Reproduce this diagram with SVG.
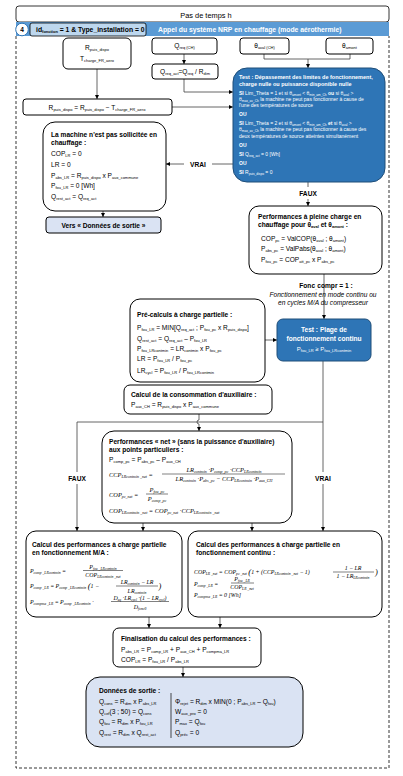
<svg xmlns="http://www.w3.org/2000/svg" width="403" height="776" viewBox="0 0 403 776">
<style>
text{font-family:"Liberation Sans",Arial,sans-serif;font-size:6.6px;fill:#000}
.b{font-weight:bold}
.sm{font-size:5px}
.w{fill:#fff}
.s{font-size:4px;baseline-shift:-1.3px}
.ss{font-size:3.2px;baseline-shift:-1px}
.m{font-family:"Liberation Serif",serif;font-style:italic;font-size:6.4px}
.m5{font-family:"Liberation Serif",serif;font-style:italic;font-size:5.9px}
.m5 .ss{font-size:3.7px;baseline-shift:-1.1px}
.it{font-style:italic}
.box{fill:#fff;stroke:#000;stroke-width:1}
.dk{fill:#2e75b6;stroke:#1f4e79;stroke-width:1}
.lt{fill:#dae3f3;stroke:#000;stroke-width:1}
.c{fill:none;stroke:#404040;stroke-width:0.8}
.fr{stroke:#000;stroke-width:0.5}
</style>
<defs>
<marker id="a" viewBox="0 0 6 6" refX="6" refY="3" markerUnits="userSpaceOnUse" markerWidth="4" markerHeight="4" orient="auto"><path d="M0,0L6,3L0,6z" fill="#000"/></marker>
</defs>

<g id="frame">
<rect x="16" y="6" width="373" height="16" rx="3" fill="#fff" stroke="#000" stroke-width="0.8"/>
<text x="206" y="17.5" text-anchor="middle" style="font-size:7.4px">Pas de temps h</text>
<rect x="16" y="22" width="373" height="14" fill="#5b9bd5"/>
<path d="M16,36V768H389V36" fill="none" stroke="#000" stroke-width="0.8" stroke-dasharray="3,2"/>
<circle cx="22" cy="29.5" r="6.3" fill="#fff" stroke="#2e75b6" stroke-width="1"/>
<text x="22" y="32" text-anchor="middle" class="b">4</text>
<rect x="30" y="23" width="116" height="13" rx="2" fill="#bdd7ee" stroke="#000" stroke-width="0.8"/>
<text x="36" y="32" class="b" style="font-size:6.8px">id<tspan class="s">fonction</tspan> = 1 &amp; Type_installation = 0</text>
<text x="158" y="32" class="b w" style="font-size:6.8px">Appel du système NRP en chauffage (mode aérothermie)</text>
</g>

<g id="connectors">
<path class="c" d="M97,69V99" marker-end="url(#a)"/>
<path class="c" d="M184,54V64" marker-end="url(#a)"/>
<path class="c" d="M184,79V92H233" marker-end="url(#a)"/>
<path class="c" d="M172,107H233" marker-end="url(#a)"/>
<path class="c" d="M264,54V59H350V54"/>
<path class="c" d="M308,59V68" marker-end="url(#a)"/>
<path class="c" d="M233,164H212"/>
<path class="c" d="M184,164H166" marker-end="url(#a)"/>
<path class="c" d="M103,211V217" marker-end="url(#a)"/>
<path class="c" d="M308,182V187"/>
<path class="c" d="M308,199V206" marker-end="url(#a)"/>
<path class="c" d="M324,274V319" marker-end="url(#a)"/>
<path class="c" d="M265,340H277" marker-end="url(#a)"/>
<path class="c" d="M323,361V472"/>
<path class="c" d="M323,484V531" marker-end="url(#a)"/>
<path class="c" d="M323,422H77V472"/>
<path class="c" d="M77,484V531" marker-end="url(#a)"/>
<path class="c" d="M199,414V420A2,2 0 0 0 199,424V431" marker-end="url(#a)"/>
<path class="c" d="M143,523V531" marker-end="url(#a)"/>
<path class="c" d="M252,523V531" marker-end="url(#a)"/>
<path class="c" d="M149,617V628" marker-end="url(#a)"/>
<path class="c" d="M220,617V628" marker-end="url(#a)"/>
<path class="c" d="M183,667V677" marker-end="url(#a)"/>
<text x="198" y="166.5" text-anchor="middle" class="b">VRAI</text>
<text x="308" y="195.5" text-anchor="middle" class="b">FAUX</text>
<text x="77" y="480.5" text-anchor="middle" class="b">FAUX</text>
<text x="323" y="480.5" text-anchor="middle" class="b">VRAI</text>
<text x="326" y="287.5" text-anchor="middle" class="b">Fonc<tspan class="s">_</tspan>compr = 1 :</text>
<text x="323" y="296.5" text-anchor="middle" class="it">Fonctionnement en mode continu ou</text>
<text x="323" y="304.5" text-anchor="middle" class="it">en cycles M/A du compresseur</text>
</g>

<g id="n_rpuis">
<rect class="box" x="63" y="38" width="68" height="31" rx="5"/>
<text x="97" y="50" text-anchor="middle">R<tspan class="s">puis_dispo</tspan></text>
<text x="97" y="61" text-anchor="middle">T<tspan class="s">charge_FR_aero</tspan></text>
</g>
<g id="n_qreq">
<rect class="box" x="152" y="38" width="65" height="16" rx="3"/>
<text x="184.5" y="48" text-anchor="middle">Q<tspan class="s">req (CH)</tspan></text>
</g>
<g id="n_aval">
<rect class="box" x="240" y="38" width="49" height="16" rx="3"/>
<text x="264.5" y="48" text-anchor="middle">θ<tspan class="s">aval (CH)</tspan></text>
</g>
<g id="n_amont">
<rect class="box" x="326" y="38" width="47" height="16" rx="3"/>
<text x="349.5" y="48" text-anchor="middle">θ<tspan class="s">amont</tspan></text>
</g>
<g id="n_qreqact">
<rect class="box" x="152" y="64" width="66" height="15" rx="3"/>
<text x="185" y="74" text-anchor="middle">Q<tspan class="s">req_act</tspan>=Q<tspan class="s">req</tspan> / R<tspan class="s">dim</tspan></text>
</g>
<g id="n_rpuiseq">
<rect class="box" x="23" y="99" width="149" height="16" rx="3"/>
<text x="97" y="109.5" text-anchor="middle">R<tspan class="s">puis_dispo</tspan> = R<tspan class="s">puis_dispo</tspan> − T<tspan class="s">charge_FR_aero</tspan></text>
</g>

<g id="n_test1">
<rect class="dk" x="233" y="68" width="152" height="114" rx="14"/>
<text x="239" y="79" class="b w" style="font-size:5.5px">Test : Dépassement des limites de fonctionnement,</text>
<text x="239" y="86" class="b w" style="font-size:5.5px">charge nulle ou puissance disponible nulle</text>
<text x="239" y="95" class="w sm"><tspan class="b">SI</tspan> Lim_Theta = 1 et si θ<tspan class="ss">amont</tspan> &lt; θ<tspan class="ss">min_am_Ch</tspan> <tspan class="b">ou</tspan> si θ<tspan class="ss">aval</tspan> &gt;</text>
<text x="239" y="101" class="w sm">θ<tspan class="ss">max_av_Ch</tspan> la machine ne peut pas fonctionner à cause de</text>
<text x="239" y="107" class="w sm">l'une des températures de source</text>
<text x="239" y="116" class="w sm b">OU</text>
<text x="239" y="125" class="w sm"><tspan class="b">SI</tspan> Lim_Theta = 2 et si θ<tspan class="ss">amont</tspan> &lt; θ<tspan class="ss">min_am_Ch</tspan> <tspan class="b">et</tspan> si θ<tspan class="ss">aval</tspan> &gt;</text>
<text x="239" y="131" class="w sm">θ<tspan class="ss">max_av_Ch</tspan> la machine ne peut pas fonctionner à cause des</text>
<text x="239" y="137.5" class="w sm">deux températures de source atteintes simultanément</text>
<text x="239" y="147" class="w sm b">OU</text>
<text x="239" y="156" class="w sm"><tspan class="b">SI</tspan> Q<tspan class="ss">req_act</tspan> = 0 [Wh]</text>
<text x="239" y="165" class="w sm b">OU</text>
<text x="239" y="174" class="w sm"><tspan class="b">SI</tspan> R<tspan class="ss">puis_dispo</tspan> = 0</text>
</g>

<g id="n_machine">
<rect class="box" x="43" y="122" width="123" height="89" rx="12"/>
<text x="51" y="137" class="b">La machine n'est pas sollicitée en</text>
<text x="51" y="144.5" class="b">chauffage :</text>
<text x="51" y="156">COP<tspan class="s">LR</tspan> = 0</text>
<text x="51" y="167">LR = 0</text>
<text x="51" y="177.5">P<tspan class="s">abs_LR</tspan> = R<tspan class="s">puis_dispo</tspan> x P<tspan class="s">aux_commune</tspan></text>
<text x="51" y="188">P<tspan class="s">fou_LR</tspan> = 0 [Wh]</text>
<text x="51" y="198.5">Q<tspan class="s">rest_act</tspan> = Q<tspan class="s">req_act</tspan></text>
</g>
<g id="n_vers">
<rect class="lt" x="46" y="217" width="115" height="16" rx="3"/>
<text x="103.5" y="227.5" text-anchor="middle" class="b">Vers « Données de sortie »</text>
</g>

<g id="n_perfpc">
<rect class="box" x="249" y="206" width="133" height="68" rx="10"/>
<text x="258" y="219" class="b">Performances à pleine charge en</text>
<text x="258" y="226.5" class="b">chauffage pour θ<tspan class="s">aval</tspan> et θ<tspan class="s">amont</tspan> :</text>
<text x="261" y="240.5">COP<tspan class="s">pc</tspan> = ValCOP(θ<tspan class="s">aval</tspan> ; θ<tspan class="s">amont</tspan>)</text>
<text x="261" y="251">P<tspan class="s">abs_pc</tspan> = ValPabs(θ<tspan class="s">aval</tspan> ; θ<tspan class="s">amont</tspan>)</text>
<text x="261" y="262">P<tspan class="s">fou_pc</tspan> = COP<tspan class="s">att_pc</tspan> x P<tspan class="s">abs_pc</tspan></text>
</g>

<g id="n_test2">
<rect class="dk" x="277" y="319" width="94" height="42" rx="6"/>
<text x="324" y="332" text-anchor="middle" class="b w">Test : Plage de</text>
<text x="324" y="340.5" text-anchor="middle" class="b w">fonctionnement continu</text>
<text x="324" y="350.5" text-anchor="middle" class="w" style="font-size:6px">P<tspan class="s">fou_LR</tspan> ≥ P<tspan class="s">fou_LRcontmin</tspan></text>
</g>

<g id="n_precalc">
<rect class="box" x="130" y="299" width="135" height="83" rx="10"/>
<text x="137" y="317" class="b">Pré-calculs à charge partielle :</text>
<text x="137" y="330">P<tspan class="s">fou_LR</tspan> = MIN[Q<tspan class="s">req_act</tspan> ; P<tspan class="s">fou_pc</tspan> x R<tspan class="s">puis_dispo</tspan>]</text>
<text x="137" y="341">Q<tspan class="s">rest_act</tspan> = Q<tspan class="s">req_act</tspan> – P<tspan class="s">fou_LR</tspan></text>
<text x="137" y="351">P<tspan class="s">fou_LRcontmin</tspan> = LR<tspan class="s">contmin</tspan> x P<tspan class="s">fou_pc</tspan></text>
<text x="137" y="361">LR = P<tspan class="s">fou_LR</tspan> / P<tspan class="s">fou_pc</tspan></text>
<text x="137" y="373">LR<tspan class="s">cycl</tspan> = P<tspan class="s">fou_LR</tspan> / P<tspan class="s">fou_LRcontmin</tspan></text>
</g>

<g id="n_aux">
<rect class="box" x="124" y="385" width="148" height="29" rx="6"/>
<text x="131" y="396.5" class="b">Calcul de la consommation d'auxiliaire :</text>
<text x="131" y="406.5">P<tspan class="s">aux_CH</tspan> = R<tspan class="s">puis_dispo</tspan> x P<tspan class="s">aux_commune</tspan></text>
</g>

<g id="n_perfnet">
<rect class="box" x="102" y="431" width="190" height="92" rx="12"/>
<text x="109" y="444" class="b">Performances « net » (sans la puissance d'auxiliaire)</text>
<text x="109" y="451.5" class="b">aux points particuliers :</text>
<text x="109" y="461.5">P<tspan class="s">comp_pc</tspan> = P<tspan class="s">abs_pc</tspan> – P<tspan class="s">aux_CH</tspan></text>
<text x="109" y="476.5" class="m">CCP<tspan class="s">LRcontmin _net</tspan> =</text>
<text x="224" y="472" class="m" text-anchor="middle">LR<tspan class="s">contmin</tspan> ·P<tspan class="s">comp_pc</tspan> ·CCP<tspan class="s">LRcontmin</tspan></text>
<line class="fr" x1="162" y1="474" x2="285" y2="474"/>
<text x="224" y="480.5" class="m" text-anchor="middle">LR<tspan class="s">contmin</tspan> ·P<tspan class="s">abs_pc</tspan> − CCP<tspan class="s">LRcontmin</tspan> ·P<tspan class="s">aux_CH</tspan></text>
<text x="109" y="496.5" class="m">COP<tspan class="s">pc_net</tspan> =</text>
<text x="157" y="492" class="m" text-anchor="middle">P<tspan class="s">fou_pc</tspan></text>
<line class="fr" x1="146" y1="494" x2="168" y2="494"/>
<text x="157" y="501" class="m" text-anchor="middle">P<tspan class="s">comp_pc</tspan></text>
<text x="109" y="513" class="m">COP<tspan class="s">LRcontmin _net</tspan> = COP<tspan class="s">pc_net</tspan> ·CCP<tspan class="s">LRcontmin _net</tspan></text>
</g>

<g id="n_ma">
<rect class="box" x="26" y="531" width="156" height="86" rx="10"/>
<text x="32" y="547" class="b">Calcul des performances à charge partielle</text>
<text x="32" y="555" class="b">en fonctionnement M/A :</text>
<text x="30" y="572.5" class="m5">P<tspan class="ss">comp _LRcontmin</tspan> =</text>
<text x="103" y="568.5" class="m5" text-anchor="middle">P<tspan class="ss">fou _LRcontmin</tspan></text>
<line class="fr" x1="83" y1="570.5" x2="123" y2="570.5"/>
<text x="103" y="577" class="m5" text-anchor="middle">COP<tspan class="ss">LRcontmin _net</tspan></text>
<text x="30" y="588" class="m5">P<tspan class="ss">comp _LR</tspan> = P<tspan class="ss">comp _LRcontmin</tspan> <tspan style="font-size:8.5px" baseline-shift="-1">(</tspan>1 −</text>
<text x="137" y="584" class="m5" text-anchor="middle">LR<tspan class="ss">contmin</tspan> − LR</text>
<line class="fr" x1="116" y1="586" x2="158" y2="586"/>
<text x="137" y="592.5" class="m5" text-anchor="middle">LR<tspan class="ss">contmin</tspan></text>
<text x="158.5" y="589" class="m5" style="font-size:8.5px">)</text>
<text x="30" y="603.5" class="m5">P<tspan class="ss">compma _LR</tspan> = P<tspan class="ss">comp _LRcontmin</tspan> ·</text>
<text x="140" y="599.5" class="m5" text-anchor="middle">D<tspan class="ss">eq</tspan> ·LR<tspan class="ss">cycl</tspan> ·(1 − LR<tspan class="ss">cycl</tspan>)</text>
<line class="fr" x1="111" y1="601.5" x2="169" y2="601.5"/>
<text x="140" y="608.5" class="m5" text-anchor="middle">D<tspan class="ss">fonc0</tspan></text>
</g>

<g id="n_continu">
<rect class="box" x="188" y="531" width="194" height="86" rx="10"/>
<text x="196" y="547" class="b">Calcul des performances à charge partielle en</text>
<text x="196" y="555" class="b">fonctionnement continu :</text>
<text x="194" y="574" class="m5">COP<tspan class="ss">LR _net</tspan> = COP<tspan class="ss">pc _net</tspan> <tspan style="font-size:8.5px" baseline-shift="-1">(</tspan>1 + (CCP<tspan class="ss">LRcontmin _net</tspan> − 1)</text>
<text x="353" y="570" class="m5" text-anchor="middle">1 − LR</text>
<line class="fr" x1="333" y1="572" x2="374" y2="572"/>
<text x="353" y="578" class="m5" text-anchor="middle">1 − LR<tspan class="ss">LRcontmin</tspan></text>
<text x="375" y="575" class="m5" style="font-size:8.5px">)</text>
<text x="194" y="585.5" class="m5">P<tspan class="ss">comp _LR</tspan> =</text>
<text x="242" y="581" class="m5" text-anchor="middle">P<tspan class="ss">fou _LR</tspan></text>
<line class="fr" x1="231" y1="583" x2="254" y2="583"/>
<text x="242" y="589" class="m5" text-anchor="middle">COP<tspan class="ss">LR _net</tspan></text>
<text x="194" y="597" class="m5">P<tspan class="ss">compma _LR</tspan> = 0 [Wh]</text>
</g>

<g id="n_final">
<rect class="box" x="113" y="628" width="148" height="39" rx="6"/>
<text x="121" y="641" class="b">Finalisation du calcul des performances :</text>
<text x="121" y="652">P<tspan class="s">abs_LR</tspan> = P<tspan class="s">comp_LR</tspan> + P<tspan class="s">aux_CH</tspan> + P<tspan class="s">compma_LR</tspan></text>
<text x="121" y="661.5">COP<tspan class="s">LR</tspan> = P<tspan class="s">fou_LR</tspan> / P<tspan class="s">abs_LR</tspan></text>
</g>

<g id="n_sortie">
<rect class="lt" x="86" y="677" width="217" height="70" rx="14"/>
<text x="99" y="693" class="b">Données de sortie :</text>
<text x="99" y="704">Q<tspan class="s">cons</tspan> = R<tspan class="s">dim</tspan> x P<tspan class="s">abs_LR</tspan></text>
<text x="99" y="714">Q<tspan class="s">cef</tspan>(3 ; 50) = Q<tspan class="s">cons</tspan></text>
<text x="99" y="724">Q<tspan class="s">fou</tspan> = R<tspan class="s">dim</tspan> x P<tspan class="s">fou_LR</tspan></text>
<text x="99" y="735">Q<tspan class="s">rest</tspan> = R<tspan class="s">dim</tspan> x Q<tspan class="s">rest_act</tspan></text>
<line x1="171" y1="693" x2="171" y2="738" stroke="#000" stroke-width="0.7"/>
<text x="175" y="704">Φ<tspan class="s">rejet</tspan> = R<tspan class="s">dim</tspan> x MIN(0 ; P<tspan class="s">abs_LR</tspan> – Q<tspan class="s">fou</tspan>)</text>
<text x="175" y="714">W<tspan class="s">aux_pro</tspan> = 0</text>
<text x="175" y="724">P<tspan class="s">max</tspan> = Q<tspan class="s">fou</tspan></text>
<text x="175" y="735">Q<tspan class="s">préc</tspan> = 0</text>
</g>
</svg>
